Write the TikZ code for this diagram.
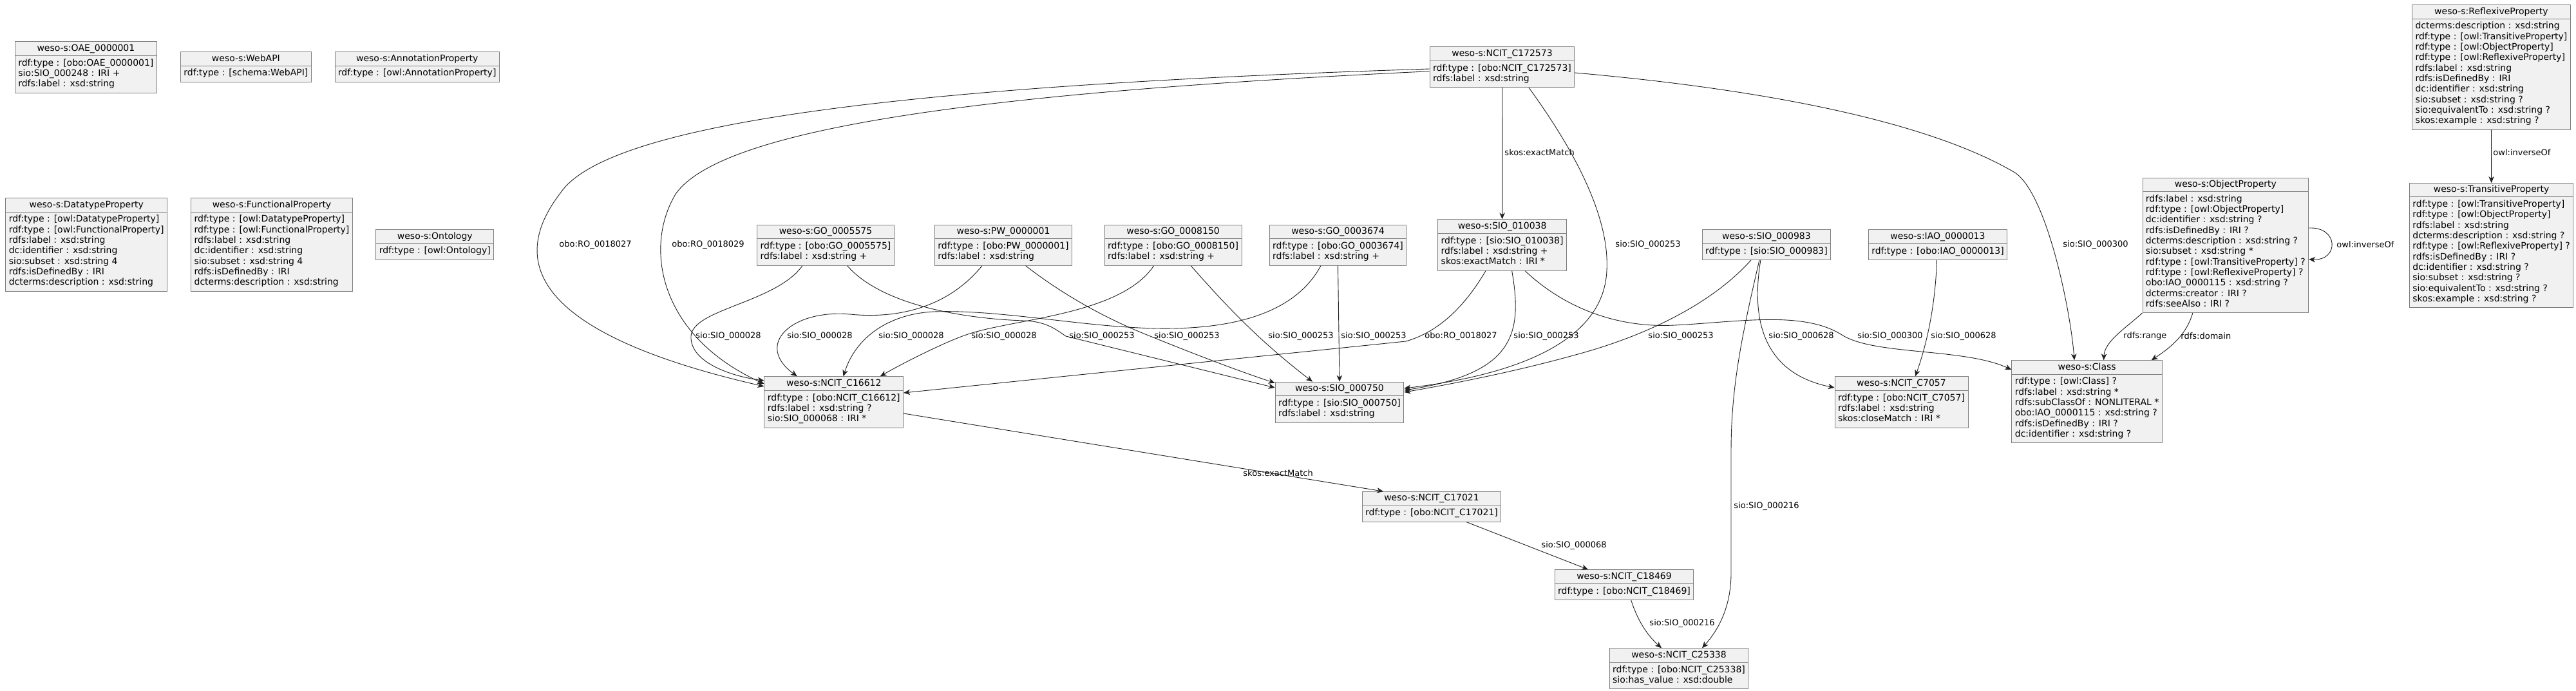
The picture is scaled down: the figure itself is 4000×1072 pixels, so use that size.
\documentclass[tikz,border=0pt]{standalone}
\usepackage{fontspec}
\setmainfont{DejaVu Sans}
\usetikzlibrary{arrows.meta,shapes.multipart}
\definecolor{boxfill}{HTML}{F1F1F1}
\definecolor{boxline}{HTML}{7F7F7F}
\definecolor{linecol}{HTML}{202020}
\newcommand{\hdr}[1]{\rule[-3.1pt]{0pt}{13.7pt}#1}
\newcommand{\attrs}[1]{\begin{tabular}{@{}l@{}}\noalign{\vskip.65pt}#1\\\noalign{\vskip.65pt}\end{tabular}}

\begin{document}
\begin{tikzpicture}[x=1pt,y=-1pt,
    entity/.style={rectangle split, rectangle split parts=2, rectangle split part align={center,left},
      draw=boxline, fill=boxfill, line width=0.9pt, inner xsep=5pt, inner ysep=3.35pt, anchor=north,
      font=\fontsize{14}{16.3}\selectfont},
    arr/.style={-{Stealth[length=10pt,width=8.5pt,inset=3pt]}, draw=linecol, line width=0.9pt},
    lab/.style={anchor=west, inner sep=0pt, font=\fontsize{13}{15}\selectfont}
  ]
  \path[use as bounding box, fill=white] (0,0) rectangle (4000,1072);

  \node[entity] (oae) at (133.4,64.3) {\hdr{weso-s:OAE\_0000001}\nodepart{two}\attrs{rdf:type : [obo:OAE\_0000001]\\sio:SIO\_000248 : IRI +\\rdfs:label : xsd:string}};
  \node[entity] (webapi) at (381.9,80.3) {\hdr{weso-s:WebAPI}\nodepart{two}\attrs{rdf:type : [schema:WebAPI]}};
  \node[entity] (annot) at (647.7,80.3) {\hdr{weso-s:AnnotationProperty}\nodepart{two}\attrs{rdf:type : [owl:AnnotationProperty]}};
  \node[entity] (dtprop) at (134.2,307.3) {\hdr{weso-s:DatatypeProperty}\nodepart{two}\attrs{rdf:type : [owl:DatatypeProperty]\\rdf:type : [owl:FunctionalProperty]\\rdfs:label : xsd:string\\dc:identifier : xsd:string\\sio:subset : xsd:string 4\\rdfs:isDefinedBy : IRI\\dcterms:description : xsd:string}};
  \node[entity] (fnprop) at (422,307.3) {\hdr{weso-s:FunctionalProperty}\nodepart{two}\attrs{rdf:type : [owl:DatatypeProperty]\\rdf:type : [owl:FunctionalProperty]\\rdfs:label : xsd:string\\dc:identifier : xsd:string\\sio:subset : xsd:string 4\\rdfs:isDefinedBy : IRI\\dcterms:description : xsd:string}};
  \node[entity] (onto) at (675.3,356.3) {\hdr{weso-s:Ontology}\nodepart{two}\attrs{rdf:type : [owl:Ontology]}};

  \node[entity] (c172573) at (2332.5,72.3) {\hdr{weso-s:NCIT\_C172573}\nodepart{two}\attrs{rdf:type : [obo:NCIT\_C172573]\\rdfs:label : xsd:string}};
  \node[entity] (reflex) at (3868.4,7.3) {\hdr{weso-s:ReflexiveProperty}\nodepart{two}\attrs{dcterms:description : xsd:string\\rdf:type : [owl:TransitiveProperty]\\rdf:type : [owl:ObjectProperty]\\rdf:type : [owl:ReflexiveProperty]\\rdfs:label : xsd:string\\rdfs:isDefinedBy : IRI\\dc:identifier : xsd:string\\sio:subset : xsd:string ?\\sio:equivalentTo : xsd:string ?\\skos:example : xsd:string ?}};
  \node[entity] (trans) at (3868.6,284) {\hdr{weso-s:TransitiveProperty}\nodepart{two}\attrs{rdf:type : [owl:TransitiveProperty]\\rdf:type : [owl:ObjectProperty]\\rdfs:label : xsd:string\\dcterms:description : xsd:string ?\\rdf:type : [owl:ReflexiveProperty] ?\\rdfs:isDefinedBy : IRI ?\\dc:identifier : xsd:string ?\\sio:subset : xsd:string ?\\sio:equivalentTo : xsd:string ?\\skos:example : xsd:string ?}};
  \node[entity] (objprop) at (3455.8,275.7) {\hdr{weso-s:ObjectProperty}\nodepart{two}\attrs{rdfs:label : xsd:string\\rdf:type : [owl:ObjectProperty]\\dc:identifier : xsd:string ?\\rdfs:isDefinedBy : IRI ?\\dcterms:description : xsd:string ?\\sio:subset : xsd:string *\\rdf:type : [owl:TransitiveProperty] ?\\rdf:type : [owl:ReflexiveProperty] ?\\obo:IAO\_0000115 : xsd:string ?\\dcterms:creator : IRI ?\\rdfs:seeAlso : IRI ?}};

  \node[entity] (go5575) at (1282,348.7) {\hdr{weso-s:GO\_0005575}\nodepart{two}\attrs{rdf:type : [obo:GO\_0005575]\\rdfs:label : xsd:string +}};
  \node[entity] (pw) at (1558,348.7) {\hdr{weso-s:PW\_0000001}\nodepart{two}\attrs{rdf:type : [obo:PW\_0000001]\\rdfs:label : xsd:string}};
  \node[entity] (go8150) at (1821.6,348.7) {\hdr{weso-s:GO\_0008150}\nodepart{two}\attrs{rdf:type : [obo:GO\_0008150]\\rdfs:label : xsd:string +}};
  \node[entity] (go3674) at (2077.5,348.7) {\hdr{weso-s:GO\_0003674}\nodepart{two}\attrs{rdf:type : [obo:GO\_0003674]\\rdfs:label : xsd:string +}};
  \node[entity] (sio10038) at (2332.6,340.3) {\hdr{weso-s:SIO\_010038}\nodepart{two}\attrs{rdf:type : [sio:SIO\_010038]\\rdfs:label : xsd:string +\\skos:exactMatch : IRI *}};
  \node[entity] (sio983) at (2742.9,356.3) {\hdr{weso-s:SIO\_000983}\nodepart{two}\attrs{rdf:type : [sio:SIO\_000983]}};
  \node[entity] (iao13) at (3009,356.3) {\hdr{weso-s:IAO\_0000013}\nodepart{two}\attrs{rdf:type : [obo:IAO\_0000013]}};

  \node[entity] (c16612) at (1294.8,584.3) {\hdr{weso-s:NCIT\_C16612}\nodepart{two}\attrs{rdf:type : [obo:NCIT\_C16612]\\rdfs:label : xsd:string ?\\sio:SIO\_000068 : IRI *}};
  \node[entity] (sio750) at (2080,592.7) {\hdr{weso-s:SIO\_000750}\nodepart{two}\attrs{rdf:type : [sio:SIO\_000750]\\rdfs:label : xsd:string}};
  \node[entity] (c7057) at (2952.5,584.3) {\hdr{weso-s:NCIT\_C7057}\nodepart{two}\attrs{rdf:type : [obo:NCIT\_C7057]\\rdfs:label : xsd:string\\skos:closeMatch : IRI *}};
  \node[entity] (class) at (3240.6,559.3) {\hdr{weso-s:Class}\nodepart{two}\attrs{rdf:type : [owl:Class] ?\\rdfs:label : xsd:string *\\rdfs:subClassOf : NONLITERAL *\\obo:IAO\_0000115 : xsd:string ?\\rdfs:isDefinedBy : IRI ?\\dc:identifier : xsd:string ?}};
  \node[entity] (c17021) at (2223,763) {\hdr{weso-s:NCIT\_C17021}\nodepart{two}\attrs{rdf:type : [obo:NCIT\_C17021]}};
  \node[entity] (c18469) at (2522,884.3) {\hdr{weso-s:NCIT\_C18469}\nodepart{two}\attrs{rdf:type : [obo:NCIT\_C18469]}};
  \node[entity] (c25338) at (2607,1006.3) {\hdr{weso-s:NCIT\_C25338}\nodepart{two}\attrs{rdf:type : [obo:NCIT\_C25338]\\sio:has\_value : xsd:double}};

  % from NCIT_C172573
  \draw[arr] ([yshift=-34.7pt]c172573.north west) .. controls (1500,130) and (950,180) .. (870,300) .. controls (770,430) and (880,530) .. ([yshift=-15.7pt]c16612.north west) node[lab] at (868,380) {obo:RO\_0018027};
  \draw[arr] ([yshift=-38.4pt]c172573.north west) .. controls (1600,140) and (1130,190) .. (1050,300) .. controls (1000,380) and (1020,520) .. ([yshift=-11.7pt]c16612.north west) node[lab] at (1043,380) {obo:RO\_0018029};
  \draw[arr] (c172573.south) -- (sio10038.north) node[lab] at (2336,236.7) {skos:exactMatch};
  \draw[arr] ([xshift=41.5pt]c172573.south) .. controls (2435,220) and (2500,330) .. (2495,420) .. controls (2490,540) and (2330,585) .. ([yshift=-10.3pt]sio750.north east) node[lab] at (2508,380) {sio:SIO\_000253};
  \draw[arr] ([yshift=-40.7pt]c172573.north east) .. controls (2640,130) and (2960,170) .. (3127,267) .. controls (3177,296) and (3215,480) .. ([xshift=-19.6pt]class.north) node[lab] at (3203,380) {sio:SIO\_000300};

  % property boxes
  \draw[arr] (reflex.south) -- (trans.north) node[lab] at (3871,236.7) {owl:inverseOf};
  \draw[arr] ([yshift=-78.3pt]objprop.north east) .. controls (3632,352) and (3632,405) .. ([yshift=-127pt]objprop.north east) node[lab] at (3628,380) {owl:inverseOf};
  \draw[arr] (objprop.south west) .. controls (3300,510) and (3268,530) .. ([xshift=26pt]class.north) node[lab] at (3297,521.7) {rdfs:range};
  \draw[arr] ([xshift=-51pt]objprop.south) .. controls (3395,520) and (3370,540) .. ([xshift=100pt]class.north) node[lab] at (3386,521.7) {rdfs:domain};

  % GO and PW boxes
  \draw[arr] ([xshift=-36pt]go5575.south) .. controls (1205,470) and (1075,480) .. (1073,522) .. controls (1071,564) and (1140,585) .. ([yshift=-6.7pt]c16612.north west) node[lab] at (1080,521.7) {sio:SIO\_000028};
  \draw[arr] ([xshift=33.6pt]go5575.south) .. controls (1370,475) and (1500,495) .. (1590,498) .. controls (1625,499) and (1640,512) .. (1655,522) -- ([yshift=-9.3pt]sio750.north west) node[lab] at (1660,521.7) {sio:SIO\_000253};
  \draw[arr] ([xshift=-33pt]pw.south) .. controls (1470,480) and (1390,495) .. (1320,488) .. controls (1230,480) and (1170,535) .. ([xshift=-57pt]c16612.north) node[lab] at (1222,521.7) {sio:SIO\_000028};
  \draw[arr] ([xshift=34.5pt]pw.south) .. controls (1660,465) and (1730,500) .. (1786,522) .. controls (1850,548) and (1920,575) .. ([yshift=-2pt]sio750.north west) node[lab] at (1792,521.7) {sio:SIO\_000253};
  \draw[arr] ([xshift=-30pt]go8150.south) .. controls (1740,490) and (1570,495) .. (1500,520) .. controls (1465,532) and (1400,565) .. ([xshift=72pt]c16612.north) node[lab] at (1508,521.7) {sio:SIO\_000028};
  \draw[arr] ([xshift=27.5pt]go8150.south) .. controls (1900,470) and (1950,525) .. ([xshift=-42pt]sio750.north) node[lab] at (1969,521.7) {sio:SIO\_000253};
  \draw[arr] ([xshift=-26.5pt]go3674.south) .. controls (2020,470) and (1950,508) .. (1820,510) .. controls (1700,512) and (1560,480) .. (1450,484) .. controls (1385,487) and (1330,520) .. ([xshift=14.7pt]c16612.north) node[lab] at (1364,521.7) {sio:SIO\_000028};
  \draw[arr] (go3674.south) -- (sio750.north) node[lab] at (2082,521.7) {sio:SIO\_000253};

  % SIO_010038, SIO_000983, IAO_0000013
  \draw[arr] ([xshift=-25.6pt]sio10038.south) .. controls (2275,475) and (2235,515) .. (2183,530) -- ([yshift=-25.7pt]c16612.north east) node[lab] at (2212,521.7) {obo:RO\_0018027};
  \draw[arr] ([xshift=15pt]sio10038.south) .. controls (2365,520) and (2350,580) .. ([yshift=-13.3pt]sio750.north east) node[lab] at (2350,521.7) {sio:SIO\_000253};
  \draw[arr] ([xshift=35.5pt]sio10038.south) .. controls (2420,470) and (2500,510) .. (2600,505) .. controls (2700,500) and (2800,482) .. (2860,520) .. controls (2910,552) and (3050,540) .. ([yshift=-14.7pt]class.north west) node[lab] at (2884,521.7) {sio:SIO\_000300};
  \draw[arr] ([xshift=-24pt]sio983.south) .. controls (2660,470) and (2560,520) .. (2450,550) .. controls (2350,578) and (2250,597) .. ([yshift=-16.3pt]sio750.north east) node[lab] at (2559,521.7) {sio:SIO\_000253};
  \draw[arr] ([xshift=-9pt]sio983.south) .. controls (2718,500) and (2740,580) .. ([yshift=-17.7pt]c7057.north west) node[lab] at (2746,521.7) {sio:SIO\_000628};
  \draw[arr] ([xshift=-11pt]sio983.south) .. controls (2705,520) and (2688,600) .. (2688,700) -- (2688,890) .. controls (2688,950) and (2662,985) .. ([xshift=36pt]c25338.north) node[lab] at (2692,785.7) {sio:SIO\_000216};
  \draw[arr] ([xshift=-1.5pt]iao13.south) .. controls (3005,480) and (2990,540) .. ([xshift=21.5pt]c7057.north) node[lab] at (2998,521.7) {sio:SIO\_000628};

  % lower chain
  \draw[arr] ([yshift=-57.7pt]c16612.north east) -- ([xshift=-75pt]c17021.north) node[lab] at (1930,735) {skos:exactMatch};
  \draw[arr] ([xshift=54pt]c17021.south) -- ([xshift=-56pt]c18469.north) node[lab] at (2393,846.7) {sio:SIO\_000068};
  \draw[arr] ([xshift=10.7pt]c18469.south) .. controls (2545,970) and (2562,990) .. ([xshift=-27pt]c25338.north) node[lab] at (2561,967.7) {sio:SIO\_000216};
\end{tikzpicture}
\end{document}
